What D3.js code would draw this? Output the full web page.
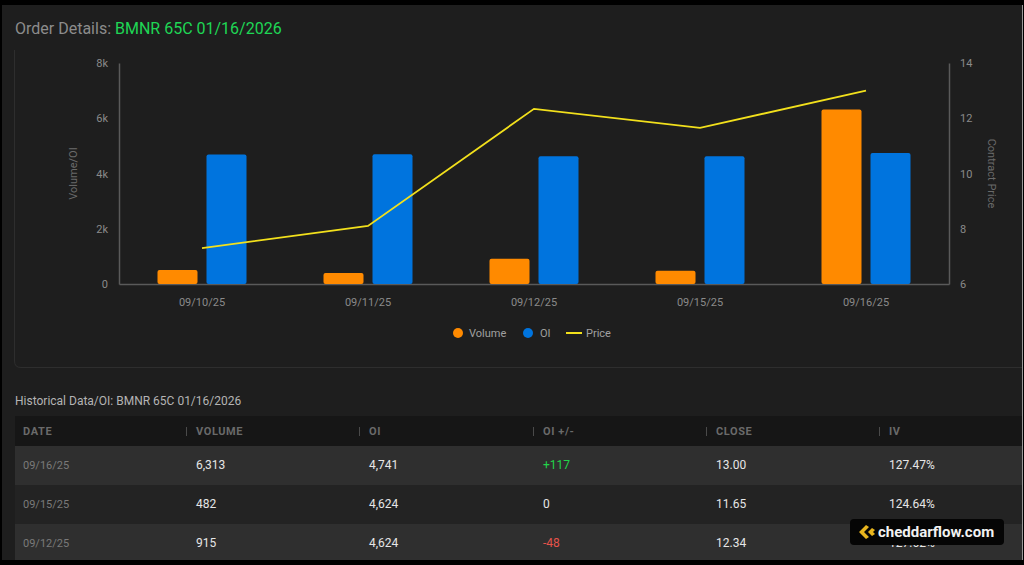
<!DOCTYPE html>
<html>
<head>
<meta charset="utf-8">
<script src="https://cdn.jsdelivr.net/npm/d3@7"></script>
<style>
  html, body { margin: 0; padding: 0; background: #000; }
  svg { display: block; font-family: Roboto, "Noto Sans", sans-serif; }
</style>
</head>
<body>
<script>
const dates = ["09/10/25", "09/11/25", "09/12/25", "09/15/25", "09/16/25"];
const volume = [505, 400, 915, 482, 6313];
const openInterest = [4690, 4700, 4624, 4624, 4741];
const price = [7.30, 8.10, 12.34, 11.65, 13.00];
const volTicks = [0, 2000, 4000, 6000, 8000];
const priceTicks = [6, 8, 10, 12, 14];

const tableHeaders = ["DATE", "VOLUME", "OI", "OI +/-", "CLOSE", "IV"];
const tableDates = ["09/16/25", "09/15/25", "09/12/25"];
const tableVolume = ["6,313", "482", "915"];
const tableOI = ["4,741", "4,624", "4,624"];
const tableChange = ["+117", "0", "-48"];
const tableClose = ["13.00", "11.65", "12.34"];
const tableIV = ["127.47%", "124.64%", "127.62%"];

const W = 1024, H = 565;
const svg = d3.select("body").append("svg").attr("width", W).attr("height", H);

// panel
svg.append("rect").attr("x", 2).attr("y", 5).attr("width", 1020).attr("height", 555).attr("fill", "#1e1e1e");
svg.append("line").attr("x1", 1022.5).attr("x2", 1022.5).attr("y1", 5).attr("y2", 560)
  .attr("stroke", "#9a9a9a").attr("stroke-width", 1);

// title
const title = svg.append("text").attr("x", 15).attr("y", 34).attr("font-size", 16);
title.append("tspan").attr("fill", "#8c8c8c").text("Order Details: ");
title.append("tspan").attr("fill", "#1fd655").text("BMNR 65C 01/16/2026");

// chart card (left + bottom edge)
svg.append("path").attr("d", "M14.5,50 V361 Q14.5,367.5 21,367.5 H1022")
  .attr("fill", "none").attr("stroke", "#2e2e2e");

const m = { left: 119, right: 949, top: 63, bottom: 284 };
const x = d3.scaleBand().domain(dates).range([m.left, m.right]);
const yL = d3.scaleLinear().domain([0, 8000]).range([m.bottom, m.top]);
const yR = d3.scaleLinear().domain([6, 14]).range([m.bottom, m.top]);

const axisColor = "#5a5a5a", tickColor = "#8a8a8a";

const gl = svg.append("g").attr("transform", `translate(${m.left},0)`)
  .call(d3.axisLeft(yL).tickValues(volTicks).tickSize(0).tickPadding(11)
    .tickFormat(d => d === 0 ? "0" : (d / 1000) + "k"));
const gr = svg.append("g").attr("transform", `translate(${m.right},0)`)
  .call(d3.axisRight(yR).tickValues(priceTicks).tickSize(0).tickPadding(11));
const gb = svg.append("g").attr("transform", `translate(0,${m.bottom})`)
  .call(d3.axisBottom(x).tickSize(0).tickPadding(14));
[gl, gr, gb].forEach(g => {
  g.select(".domain").attr("stroke", axisColor).attr("stroke-width", 1.5);
  g.selectAll("text").attr("fill", tickColor).attr("font-size", 11)
    .attr("font-family", "Roboto, sans-serif");
});

svg.append("text").attr("transform", `translate(77,${(m.top + m.bottom) / 2}) rotate(-90)`)
  .attr("text-anchor", "middle").attr("fill", "#6a6a6a").attr("font-size", 11).text("Volume/OI");
svg.append("text").attr("transform", `translate(988,${(m.top + m.bottom) / 2}) rotate(90)`)
  .attr("text-anchor", "middle").attr("fill", "#6a6a6a").attr("font-size", 11).text("Contract Price");

// bars
const barW = 40, gap = 9;
const cx = d => x(d) + x.bandwidth() / 2;
svg.append("g").selectAll("rect").data(dates).join("rect")
  .attr("x", d => cx(d) - gap / 2 - barW).attr("width", barW)
  .attr("y", (d, i) => yL(volume[i])).attr("height", (d, i) => m.bottom - yL(volume[i]))
  .attr("rx", 2).attr("fill", "#ff8a00");
svg.append("g").selectAll("rect").data(dates).join("rect")
  .attr("x", d => cx(d) + gap / 2).attr("width", barW)
  .attr("y", (d, i) => yL(openInterest[i])).attr("height", (d, i) => m.bottom - yL(openInterest[i]))
  .attr("rx", 2).attr("fill", "#0074de");

// price line
svg.append("path").datum(dates)
  .attr("d", d3.line().x(d => cx(d)).y((d, i) => yR(price[i])))
  .attr("fill", "none").attr("stroke", "#f2e01c").attr("stroke-width", 1.8);

// legend
const lg = svg.append("g").attr("font-size", 11).attr("fill", "#a0a0a0");
lg.append("circle").attr("cx", 458).attr("cy", 333).attr("r", 5).attr("fill", "#ff8a00");
lg.append("text").attr("x", 469).attr("y", 337).text("Volume");
lg.append("circle").attr("cx", 528).attr("cy", 333).attr("r", 5).attr("fill", "#0074de");
lg.append("text").attr("x", 540).attr("y", 337).text("OI");
lg.append("line").attr("x1", 566).attr("x2", 582).attr("y1", 333).attr("y2", 333)
  .attr("stroke", "#f2e01c").attr("stroke-width", 2);
lg.append("text").attr("x", 586).attr("y", 337).text("Price");

// table
svg.append("text").attr("x", 15).attr("y", 405).attr("font-size", 12).attr("fill", "#b4b4b4")
  .text("Historical Data/OI: BMNR 65C 01/16/2026");

const colX = [23, 196, 369, 543, 716, 889];
const tblX = 15, tblW = 1007;
svg.append("rect").attr("x", tblX).attr("y", 416).attr("width", tblW).attr("height", 30).attr("fill", "#161616");
const hdr = svg.append("g").attr("font-size", 11).attr("font-weight", "bold").attr("fill", "#6a6a6a")
  .attr("letter-spacing", 0.6);
tableHeaders.forEach((h, i) => {
  hdr.append("text").attr("x", colX[i]).attr("y", 435).text(h);
  if (i > 0) hdr.append("line").attr("x1", colX[i] - 9.5).attr("x2", colX[i] - 9.5)
    .attr("y1", 427).attr("y2", 436).attr("stroke", "#4a4a4a");
});

const rowY = [446, 485, 524];
const rowH = [39, 39, 36];
const rowFill = ["#2f2f2f", "#232323", "#2f2f2f"];
const changeColor = v => v.startsWith("+") ? "#22d34a" : v.startsWith("-") ? "#e5534b" : "#e6e6e6";
tableDates.forEach((d, i) => {
  svg.append("rect").attr("x", tblX).attr("y", rowY[i]).attr("width", tblW).attr("height", rowH[i]).attr("fill", rowFill[i]);
  const ty = rowY[i] + 23;
  const cells = [
    [d, "#7a7a7a", 11],
    [tableVolume[i], "#e6e6e6", 12],
    [tableOI[i], "#e6e6e6", 12],
    [tableChange[i], changeColor(tableChange[i]), 12],
    [tableClose[i], "#e6e6e6", 12],
    [tableIV[i], "#e6e6e6", 12]
  ];
  cells.forEach((c, j) => {
    svg.append("text").attr("x", colX[j]).attr("y", ty).attr("font-size", c[2]).attr("fill", c[1]).text(c[0]);
  });
});

// watermark
const wm = svg.append("g");
wm.append("rect").attr("x", 850).attr("y", 519).attr("width", 154).attr("height", 26).attr("rx", 4).attr("fill", "#050505");
wm.append("path").attr("d", "M866,525 L859,532 L866,539 L869,537 L864,532 L869,527 Z").attr("fill", "#e8b51e");
wm.append("path").attr("d", "M872,528 L868,532 L872,536 L875,534 L873,532 L875,530 Z").attr("fill", "#e8b51e");
wm.append("text").attr("x", 878).attr("y", 537).attr("font-size", 15).attr("font-weight", "bold")
  .attr("fill", "#f2f2f2").text("cheddarflow.com");
</script>
</body>
</html>
